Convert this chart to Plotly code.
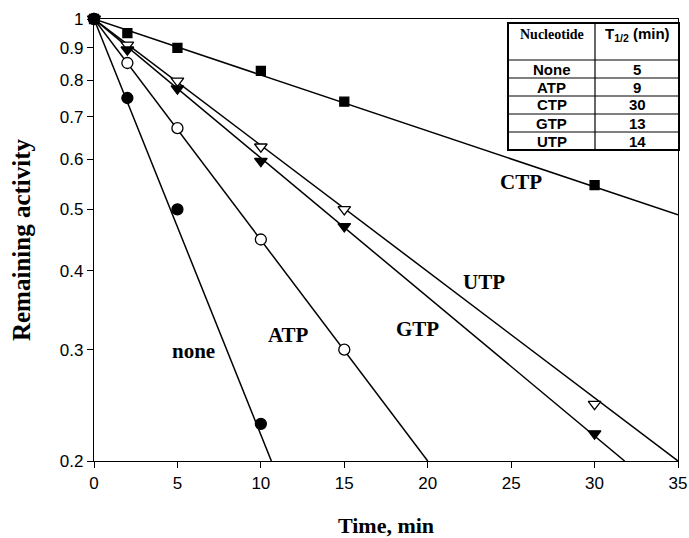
import plotly.graph_objects as go
import math

# ---- data ----
time_none = [0, 2, 5, 10]
act_none = [1.0, 0.75, 0.5, 0.229]
time_atp = [0, 2, 5, 10, 15]
act_atp = [1.0, 0.852, 0.672, 0.448, 0.30]
time_ctp = [0, 2, 5, 10, 15, 30]
act_ctp = [1.0, 0.95, 0.90, 0.828, 0.74, 0.546]
time_gtp = [0, 2, 5, 10, 15, 30]
act_gtp = [1.0, 0.894, 0.776, 0.596, 0.47, 0.221]
time_utp = [0, 2, 5, 10, 15, 30]
act_utp = [1.0, 0.91, 0.798, 0.628, 0.50, 0.246]

# fitted line end points
fit_none_x = [0, 10.63]; fit_none_y = [1.0, 0.2]
fit_atp_x = [0, 20.0]; fit_atp_y = [1.0, 0.2]
fit_ctp_x = [0, 35.0]; fit_ctp_y = [1.0, 0.49]
fit_gtp_x = [0, 31.8]; fit_gtp_y = [1.0, 0.2]
fit_utp_x = [0, 35.0]; fit_utp_y = [1.0, 0.2]

label_names = ["CTP", "UTP", "GTP", "ATP", "none"]
label_x = [25.6, 23.4, 19.4, 11.65, 5.97]
label_y = [0.553, 0.384, 0.324, 0.317, 0.298]

table_nucleotide = ["None", "ATP", "CTP", "GTP", "UTP"]
table_half_life = ["5", "9", "30", "13", "14"]

x_ticks = [0, 5, 10, 15, 20, 25, 30, 35]
y_ticks = [0.2, 0.3, 0.4, 0.5, 0.6, 0.7, 0.8, 0.9, 1.0]
y_ticktext = ["0.2", "0.3", "0.4", "0.5", "0.6", "0.7", "0.8", "0.9", "1"]

fig = go.Figure()

line_style = dict(color="black", width=1.5)
for fx, fy in [(fit_none_x, fit_none_y), (fit_atp_x, fit_atp_y), (fit_ctp_x, fit_ctp_y),
               (fit_gtp_x, fit_gtp_y), (fit_utp_x, fit_utp_y)]:
    fig.add_trace(go.Scatter(x=fx, y=fy, mode="lines", line=line_style,
                             showlegend=False, hoverinfo="skip"))

def add_markers(x, y, symbol, fill, size):
    fig.add_trace(go.Scatter(
        x=x, y=y, mode="markers", cliponaxis=False, showlegend=False,
        marker=dict(symbol=symbol, size=size, color=fill,
                    line=dict(color="black", width=1.3))))

add_markers(time_ctp, act_ctp, "square", "black", 9)
add_markers(time_utp, act_utp, "triangle-down", "white", 11)
add_markers(time_gtp, act_gtp, "triangle-down", "black", 11)
add_markers(time_atp, act_atp, "circle", "white", 11)
add_markers(time_none, act_none, "circle", "black", 11)

for name, lx, ly in zip(label_names, label_x, label_y):
    fig.add_annotation(x=lx, y=math.log10(ly), text="<b>%s</b>" % name, showarrow=False,
                       font=dict(family="Liberation Serif", size=21, color="black"),
                       xanchor="center", yanchor="middle")

# ---- table (pixel layout converted to paper coords) ----
L, R, T, B = 94, 678, 19, 461
def px(x): return (x - L) / (R - L)
def py(y): return (B - y) / (B - T)

tx0, tx1, tx2 = 508, 595, 679
row_lines = [23, 60, 78, 96, 114, 132, 150]
fig.add_shape(type="rect", xref="paper", yref="paper", x0=px(tx0), x1=px(tx2),
              y0=py(row_lines[-1]), y1=py(row_lines[0]),
              line=dict(color="black", width=2), fillcolor="white", layer="above")
fig.add_shape(type="line", xref="paper", yref="paper", x0=px(tx1), x1=px(tx1),
              y0=py(row_lines[-1]), y1=py(row_lines[0]),
              line=dict(color="black", width=1.2))
for ry in row_lines[1:-1]:
    fig.add_shape(type="line", xref="paper", yref="paper", x0=px(tx0), x1=px(tx2),
                  y0=py(ry), y1=py(ry), line=dict(color="black", width=1.2))

cx1 = (tx0 + tx1) / 2
cx2 = (tx1 + tx2) / 2
fig.add_annotation(xref="paper", yref="paper", x=px(cx1), y=py(34), text="<b>Nucleotide</b>",
                   showarrow=False, font=dict(family="Liberation Serif", size=14, color="black"),
                   xanchor="center", yanchor="middle")
fig.add_annotation(xref="paper", yref="paper", x=px(cx2), y=py(34),
                   text="<b>T<sub>1/2</sub> (min)</b>",
                   showarrow=False, font=dict(family="Liberation Sans", size=15, color="black"),
                   xanchor="center", yanchor="middle")
for i, (n, h) in enumerate(zip(table_nucleotide, table_half_life)):
    yc = (row_lines[i + 1] + row_lines[i + 2]) / 2
    fig.add_annotation(xref="paper", yref="paper", x=px(cx1), y=py(yc), text="<b>%s</b>" % n,
                       showarrow=False, font=dict(family="Liberation Sans", size=15, color="black"),
                       xanchor="center", yanchor="middle")
    fig.add_annotation(xref="paper", yref="paper", x=px(cx2), y=py(yc), text="<b>%s</b>" % h,
                       showarrow=False, font=dict(family="Liberation Sans", size=15, color="black"),
                       xanchor="center", yanchor="middle")

fig.update_layout(
    width=689, height=538,
    margin=dict(l=L, r=689 - R, t=T, b=538 - B, autoexpand=False),
    paper_bgcolor="white", plot_bgcolor="white",
    showlegend=False,
    xaxis=dict(range=[0, 35], tickvals=x_ticks, showgrid=False, zeroline=False,
               automargin=False,
               showline=True, linecolor="black", linewidth=1.3, mirror=True,
               ticks="outside", ticklen=6, tickcolor="black",
               tickfont=dict(family="Liberation Sans", size=17, color="black"),
               title=dict(text="<b>Time, min</b>", standoff=30,
                          font=dict(family="Liberation Serif", size=22, color="black"))),
    yaxis=dict(type="log", range=[math.log10(0.2), 0], tickvals=y_ticks, ticktext=y_ticktext,
               showgrid=False, zeroline=False, automargin=False,
               showline=True, linecolor="black", linewidth=1.3, mirror=True,
               ticks="outside", ticklen=6, tickcolor="black",
               tickfont=dict(family="Liberation Sans", size=17, color="black"),
               title=dict(text="<b>Remaining activity</b>", standoff=22,
                          font=dict(family="Liberation Serif", size=25, color="black"))),
)

fig.write_html("out.html")
